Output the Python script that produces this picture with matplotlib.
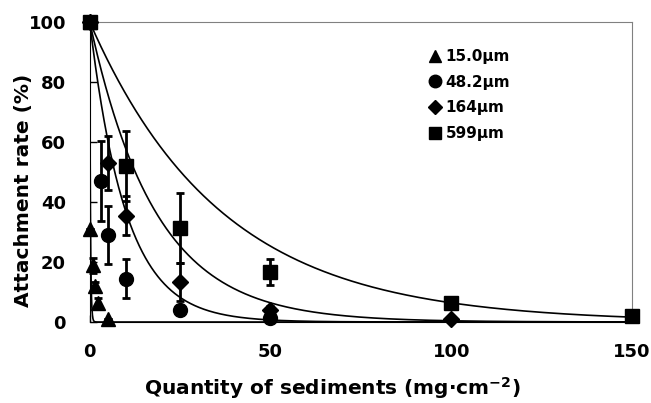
import numpy as np
import matplotlib
matplotlib.use("Agg")
import matplotlib.pyplot as plt
from matplotlib.lines import Line2D

plt.rcParams['font.family'] = ['DejaVu Sans']
plt.rcParams['mathtext.fontset'] = 'custom'
plt.rcParams['mathtext.rm'] = 'DejaVu Sans:bold'
plt.rcParams['mathtext.it'] = 'DejaVu Sans:bold'
plt.rcParams['mathtext.bf'] = 'DejaVu Sans:bold'

labels = ["15.0µm", "48.2µm", "164µm", "599µm"]
markers = ["^", "o", "D", "s"]

x15 = [0, 0.1, 0.8, 1.5, 2.4, 5.0]
y15 = [100, 31, 19, 12, 6.5, 1]
e15 = [0, 0, 2.5, 1.5, 1.5, 0]

x48 = [0, 3, 5, 10, 25, 50]
y48 = [100, 47, 29, 14.5, 4, 1.2]
e48 = [0, 13.4, 9.8, 6.5, 0, 0]

x164 = [0, 5, 10, 25, 50, 100]
y164 = [100, 53, 35.5, 13.4, 4, 1]
e164 = [0, 9, 6.5, 6.4, 1.5, 0]

x599 = [0, 10, 25, 50, 100, 150]
y599 = [100, 52, 31.4, 16.8, 6.4, 2.1]
e599 = [0, 11.8, 11.7, 4.3, 0, 0]

# decay coefficients of the fitted curves y = 100*exp(-k*x)
kfit = [5.0, 0.1, 0.055, 0.0275]

series = [(x15, y15, e15), (x48, y48, e48), (x164, y164, e164), (x599, y599, e599)]
msizes = [10, 10, 8.5, 10]

fig = plt.figure(figsize=(6.51, 4.03), dpi=100)
ax = fig.add_axes([89.7/651, 1-322/403, (632-89.7)/651, (322-22)/403])

xx = np.linspace(0, 150, 3000)
for k in kfit:
    ax.plot(xx, 100*np.exp(-k*xx), color='black', lw=1.2, zorder=2)

for (x, y, e), m, ms in zip(series, markers, msizes):
    ax.errorbar(x, y, yerr=e, fmt=m, color='black', ms=ms, ecolor='black',
                elinewidth=2, capsize=3, capthick=2, zorder=3, clip_on=False)

ax.set_xlim(0, 150)
ax.set_ylim(0, 100)
ax.set_xticks([0, 50, 100, 150])
ax.set_yticks([0, 20, 40, 60, 80, 100])
ax.tick_params(direction='in', length=5, width=1, pad=17, labelsize=13)
ax.tick_params(axis='x', pad=15)
for lab in ax.get_xticklabels() + ax.get_yticklabels():
    lab.set_fontweight('bold')
for s in ['top', 'right']:
    ax.spines[s].set_color('#808080')
for s in ['left', 'bottom']:
    ax.spines[s].set_color('black')

fig.text(332/651, 1-388/403, "Quantity of sediments (mg\u00b7cm$^{-2}$)", fontsize=14.5,
         fontweight='bold', ha='center', va='center')
fig.text(24/651, 1-190/403, "Attachment rate (%)", fontsize=14.5, fontweight='bold',
         ha='center', va='center', rotation=90)

handles = [Line2D([], [], marker=m, ls='none', color='black', ms=s)
           for m, s in zip(markers, [9, 9, 7, 9])]
leg = ax.legend(handles, labels, loc='upper left', bbox_to_anchor=(429/651, 1-49/403),
                bbox_transform=fig.transFigure, frameon=False, borderpad=0, borderaxespad=0,
                handlelength=0.8, handletextpad=0.3, labelspacing=0.7,
                prop={'size': 11, 'weight': 'bold'})

fig.savefig("out.png", dpi=100)
